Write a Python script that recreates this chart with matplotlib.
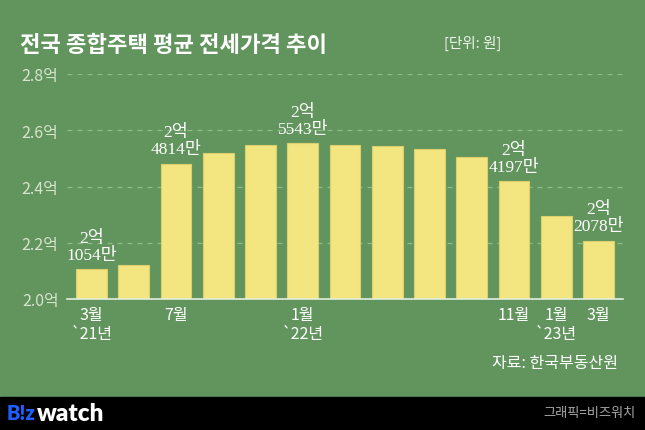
import matplotlib
matplotlib.use("Agg")
import matplotlib.pyplot as plt
from matplotlib.patches import Rectangle

plt.rcParams['font.family'] = ['Noto Sans CJK KR', 'DejaVu Sans']

# ---- data ----
months = ["3월", "5월", "7월", "9월", "11월", "1월", "3월", "5월", "7월", "9월", "11월", "1월", "3월"]
values = [2.1054, 2.121, 2.4814, 2.518, 2.546, 2.5543, 2.546, 2.543, 2.535, 2.505, 2.4197, 2.296, 2.2078]
tick_labels = ["3월\n`21년", "", "7월", "", "", "1월\n`22년", "", "", "", "", "11월", "1월\n`23년", "3월"]
annot_idx = [0, 2, 5, 10, 12]
annot_text = ["2억\n1054만", "2억\n4814만", "2억\n5543만", "2억\n4197만", "2억\n2078만"]
yticks = [2.0, 2.2, 2.4, 2.6, 2.8]
ytick_labels = ["2.0억", "2.2억", "2.4억", "2.6억", "2.8억"]

BG = "#62955e"
BAR = "#f3e681"

W, H = 645, 431
fig = plt.figure(figsize=(W / 100, H / 100), dpi=100, facecolor=BG)

def fx(px):
    return px / W

def fy(py):
    return 1 - py / H

ax = fig.add_axes([fx(67), fy(300), fx(623) - fx(67), fy(75) - fy(300)])
ax.set_facecolor(BG)
x = list(range(len(values)))
ax.bar(x, values, width=0.73, color=BAR, edgecolor="#dccf6c", linewidth=0.8, zorder=3)
ax.set_xlim(-0.58, len(values) - 1 + 0.58)
ax.set_ylim(2.0, 2.8)
ax.set_yticks(yticks)
ax.set_yticklabels(ytick_labels, color="#d6e4cd", fontsize=11.5)
ax.set_xticks(x)
ax.set_xticklabels(tick_labels, color="white", fontsize=11.5, linespacing=1.15)
ax.tick_params(axis="both", length=0)
ax.tick_params(axis="x", pad=5)
ax.tick_params(axis="y", pad=6)
ax.yaxis.grid(True, color="#8dba89", linestyle=(0, (4, 4)), linewidth=0.9, zorder=0)
for s in ["top", "right", "left"]:
    ax.spines[s].set_visible(False)
ax.spines["bottom"].set_color("#e3eedc")
ax.spines["bottom"].set_linewidth(1.2)
ax.spines["bottom"].set_zorder(4)

for i, t in zip(annot_idx, annot_text):
    ax.annotate(t, xy=(i, values[i]), xytext=(0, 4.5), textcoords="offset points",
                ha="center", va="bottom", color="white", fontsize=12.5,
                family=["Liberation Serif", "Noto Sans CJK KR"], linespacing=1.1, zorder=5)

# title and notes
fig.text(fx(20), fy(45), "전국 종합주택 평균 전세가격 추이", color="white", fontsize=16,
         fontweight="bold", ha="left", va="center")
fig.text(fx(501), fy(43), "[단위: 원]", color="#eef4ea", fontsize=10.5, ha="right", va="center")
fig.text(fx(618), fy(364), "자료: 한국부동산원", color="white", fontsize=11.5, ha="right", va="center")

# footer band
fig.patches.append(Rectangle((0, 0), 1, fy(398), transform=fig.transFigure, color="black", zorder=0))
fig.text(fx(7), fy(414), "B!z", color="#1f5eff", fontsize=14.5, fontweight="heavy",
         family=["Lato", "DejaVu Sans"], ha="left", va="center")
fig.text(fx(37), fy(414), "watch", color="white", fontsize=17.5, fontweight="heavy",
         family=["Lato", "DejaVu Sans"], ha="left", va="center")
fig.text(fx(636), fy(414), "그래픽=비즈워치", color="#a8a8a8", fontsize=9.5, ha="right", va="center")

fig.savefig("out.png", dpi=100, facecolor=BG)
